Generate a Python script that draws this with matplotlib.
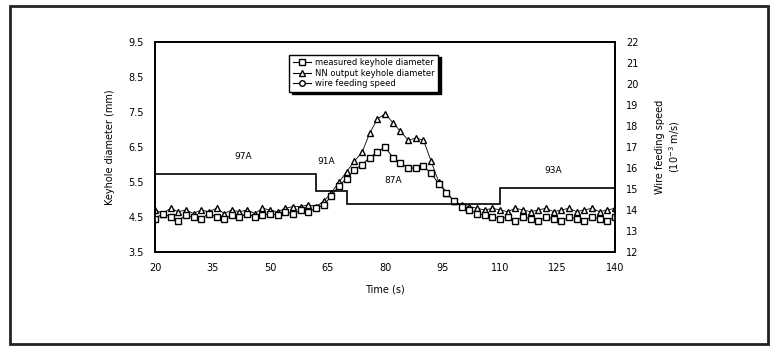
import matplotlib

matplotlib.use("Agg")
import matplotlib.pyplot as plt
import numpy as np
from matplotlib.lines import Line2D
from matplotlib.patches import Rectangle

# time axis (s), one sample every 2 s
time = np.arange(20, 141, 2)

# keyhole diameter (mm)
measured = [4.45, 4.6, 4.5, 4.4, 4.55, 4.5, 4.45, 4.6, 4.5, 4.45,
            4.55, 4.5, 4.6, 4.5, 4.55, 4.6, 4.55, 4.65, 4.6,
            4.7, 4.65, 4.75, 4.85, 5.1, 5.4, 5.6, 5.85, 6.0, 6.2, 6.35, 6.5,
            6.2, 6.05, 5.9, 5.9, 5.95, 5.75, 5.45, 5.2, 4.95, 4.8,
            4.7, 4.6, 4.55, 4.5, 4.45, 4.5, 4.4, 4.5, 4.45, 4.4,
            4.5, 4.45, 4.4, 4.5, 4.45, 4.4, 4.5, 4.45, 4.4, 4.5]
nn_output = [4.7, 4.6, 4.75, 4.65, 4.7, 4.6, 4.7, 4.65, 4.75, 4.6,
             4.7, 4.65, 4.7, 4.6, 4.75, 4.7, 4.65, 4.75, 4.8,
             4.8, 4.85, 4.8, 4.95, 5.2, 5.5, 5.8, 6.1, 6.35, 6.9, 7.3, 7.45,
             7.2, 6.95, 6.7, 6.75, 6.7, 6.1, 5.5, 5.2, 4.95, 4.85,
             4.8, 4.75, 4.7, 4.75, 4.7, 4.65, 4.75, 4.7, 4.65, 4.7,
             4.75, 4.65, 4.7, 4.75, 4.65, 4.7, 4.75, 4.65, 4.7, 4.75]

# wire feeding speed steps (10^-3 m/s) and welding current labels
wire_edges = [20, 62, 70, 110, 140]
wire_speed = [15.7, 14.9, 14.3, 15.05]
current_labels = ["97A", "91A", "87A", "93A"]
label_pos = [(43, 6.1), (64.5, 5.95), (82, 5.4), (124, 5.7)]

x_ticks = [20, 35, 50, 65, 80, 95, 110, 125, 140]
left_ticks = [3.5, 4.5, 5.5, 6.5, 7.5, 8.5, 9.5]
right_ticks = list(range(12, 23))

plt.rcParams["font.family"] = ["DejaVu Sans"]
fig = plt.figure(figsize=(7.76, 3.5), dpi=100, facecolor="white")
ax = fig.add_axes([0.2, 0.28, 0.5925, 0.60])
ax2 = ax.twinx()

ax.plot(time, measured, color="black", lw=0.7, marker="s", ms=5,
        mfc="white", mec="black", mew=1.0, zorder=3)
ax.plot(time, nn_output, color="black", lw=0.6, marker="^", ms=5,
        mfc="white", mec="black", mew=1.0, zorder=2)
ax2.stairs(wire_speed, wire_edges, color="black", lw=1.2, baseline=None)

for txt, (tx, ty) in zip(current_labels, label_pos):
    ax.text(tx, ty, txt, fontsize=6.5, ha="center", va="bottom")

ax.set_xlim(20, 140)
ax.set_ylim(3.5, 9.5)
ax2.set_ylim(12, 22)
ax.set_xticks(x_ticks)
ax.set_yticks(left_ticks)
ax2.set_yticks(right_ticks)
ax.set_yticklabels([f"{v:.1f}" for v in left_ticks])
for a in (ax, ax2):
    a.tick_params(length=0, labelsize=7, pad=8)
    for s in a.spines.values():
        s.set_linewidth(1.3)

ax.set_xlabel("Time (s)", fontsize=7, labelpad=8)
ax.set_ylabel("Keyhole diameter (mm)", fontsize=7, labelpad=10)
ax2.set_ylabel("Wire feeding speed\n(10$^{-3}$ m/s)", fontsize=7, labelpad=12)

handles = [
    Line2D([], [], color="black", lw=0.8, marker="s", ms=4, mfc="white"),
    Line2D([], [], color="black", lw=0.8, marker="^", ms=4, mfc="white"),
    Line2D([], [], color="black", lw=0.8, marker="o", ms=4, mfc="white"),
]
leg = ax.legend(handles, ["measured keyhole diameter", "NN output keyhole diameter",
                          "wire feeding speed"],
                loc="upper left", bbox_to_anchor=(0.283, 0.96), fontsize=6,
                frameon=True, fancybox=False, shadow={"color": "black", "alpha": 1.0},
                handlelength=2.2, borderpad=0.4, labelspacing=0.2, handletextpad=0.5)
leg.get_frame().set_edgecolor("black")
leg.get_frame().set_linewidth(1.0)

fig.patches.append(Rectangle((0.013, 0.018), 0.977, 0.964, transform=fig.transFigure,
                             fill=False, edgecolor="#222222", lw=2.0))

fig.savefig("out.png", dpi=100, facecolor="white")
